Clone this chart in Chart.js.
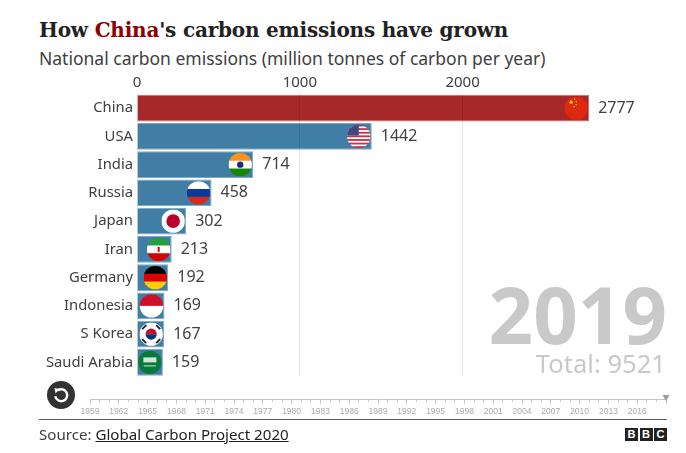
<!DOCTYPE html>
<html>
<head>
<meta charset="utf-8">
<script src="https://cdn.jsdelivr.net/npm/chart.js@4"></script>
<style>
html, body { margin: 0; padding: 0; background: #fff; }
#wrap { position: relative; width: 686px; height: 453px; overflow: hidden; color: #222; }
#wrap div { position: absolute; white-space: nowrap; }
canvas { position: absolute; }
#title { left: 39px; top: 18px; font: bold 20px "DejaVu Serif"; letter-spacing: -0.2px; color: #222; }
#title span { color: #8e0000; }
#subtitle { left: 39px; top: 46px; font: 17.5px "Noto Sans"; color: #404040; }
#year { right: 19px; top: 270px; font: bold 78px "Noto Sans"; color: #c9c9c9; line-height: 88px; }
#total { right: 20px; top: 346px; font: 25.6px "Noto Sans"; color: #c9c9c9; }
#rule { left: 39px; top: 419px; width: 628px; height: 1px; background: #5f5f5f; }
#source { left: 39px; top: 424px; font: 15.1px "Noto Sans"; color: #404040; }
#source u { color: #222; }
#replay { left: 47px; top: 381px; width: 28px; height: 28px; border-radius: 14px; background: #333; }
.bbc { top: 428px; width: 13px; height: 12.5px; background: #222; color: #fff; font: bold 11px/13px "Liberation Sans"; text-align: center; }
</style>
</head>
<body>
<div id="wrap">
  <div id="title">How <span>China</span>'s carbon emissions have grown</div>
  <div id="subtitle">National carbon emissions (million tonnes of carbon per year)</div>
  <canvas id="plot" width="686" height="400" style="left:0;top:0"></canvas>
  <div id="year">2019</div>
  <div id="total">Total: 9521</div>
  <canvas id="timeline" width="620" height="45" style="left:60px;top:375px"></canvas>
  <div id="replay">
    <svg width="28" height="28" viewBox="0 0 28 28"><path d="M10.8 9.3 A6 6 0 1 1 8.3 15.2" fill="none" stroke="#fff" stroke-width="2.4"/><path d="M7.5 7 L12.5 8 L8.5 12.5 Z" fill="#fff"/></svg>
  </div>
  <div id="rule"></div>
  <div id="source">Source: <u>Global Carbon Project 2020</u></div>
  <div class="bbc" style="left:625px">B</div>
  <div class="bbc" style="left:639.5px">B</div>
  <div class="bbc" style="left:654px">C</div>
</div>
<script>
const countries = ['China', 'USA', 'India', 'Russia', 'Japan', 'Iran', 'Germany', 'Indonesia', 'S Korea', 'Saudi Arabia'];
const emissions = [2777, 1442, 714, 458, 302, 213, 192, 169, 167, 159];
const axisTicks = [0, 1000, 2000];
const timelineYears = [1959, 1962, 1965, 1968, 1971, 1974, 1977, 1980, 1983, 1986, 1989, 1992, 1995, 1998, 2001, 2004, 2007, 2010, 2013, 2016];
const currentYear = 2019;

function stripes(ctx, x, y, r, colors) {
    let h = 2 * r / colors.length;
    colors.forEach((c, i) => {
        ctx.fillStyle = c;
        ctx.fillRect(x - r, y - r + i * h, 2 * r, h + 0.5);
    });
}

const flags = {
    China(ctx, x, y, r) {
        stripes(ctx, x, y, r, ['#de2910']);
        ctx.fillStyle = '#ffde00';
        [[-5, -6, 1.6], [-1.5, -9, .7], [0, -6.5, .7], [0, -3.5, .7], [-2, -1.5, .7]].forEach(s => {
            ctx.beginPath();
            ctx.arc(x + s[0], y + s[1], s[2], 0, Math.PI * 2);
            ctx.fill();
        });
    },
    USA(ctx, x, y, r) {
        let c = ['#c8304a', '#fff'];
        for (let i = 0; i < 13; i++) {
            ctx.fillStyle = c[i % 2];
            ctx.fillRect(x - r, y - r + i * 2 * r / 13, 2 * r, 2 * r / 13 + 0.3);
        }
        ctx.fillStyle = '#46467f';
        ctx.fillRect(x - r, y - r, r, r * 0.92);
    },
    India(ctx, x, y, r) {
        stripes(ctx, x, y, r, ['#f7931e', '#fff', '#128807']);
        ctx.fillStyle = '#1a2a7c';
        ctx.beginPath();
        ctx.arc(x, y, 3.2, 0, Math.PI * 2);
        ctx.fill();
    },
    Russia(ctx, x, y, r) { stripes(ctx, x, y, r, ['#fff', '#0a3a9c', '#d52b1e']); },
    Japan(ctx, x, y, r) {
        stripes(ctx, x, y, r, ['#fff']);
        ctx.fillStyle = '#bc002d';
        ctx.beginPath();
        ctx.arc(x, y, 6.8, 0, Math.PI * 2);
        ctx.fill();
    },
    Iran(ctx, x, y, r) {
        stripes(ctx, x, y, r, ['#239f40', '#fff', '#da0000']);
        ctx.fillStyle = '#da0000';
        ctx.fillRect(x - 1, y - 2.5, 2, 5);
    },
    Germany(ctx, x, y, r) { stripes(ctx, x, y, r, ['#000', '#dd0000', '#ffce00']); },
    Indonesia(ctx, x, y, r) { stripes(ctx, x, y, r, ['#ce1126', '#fff']); },
    'S Korea'(ctx, x, y, r) {
        stripes(ctx, x, y, r, ['#fff']);
        ctx.fillStyle = '#c60c30';
        ctx.beginPath();
        ctx.arc(x, y, 5.6, Math.PI, 0);
        ctx.fill();
        ctx.fillStyle = '#003478';
        ctx.beginPath();
        ctx.arc(x, y, 5.6, 0, Math.PI);
        ctx.fill();
        ctx.strokeStyle = '#222';
        ctx.lineWidth = 2;
        [[-7, -7], [7, -7], [-7, 7], [7, 7]].forEach(p => {
            let sign = p[0] * p[1] > 0 ? 1 : -1;
            ctx.beginPath();
            ctx.moveTo(x + p[0] - 2, y + p[1] + 2 * sign);
            ctx.lineTo(x + p[0] + 2, y + p[1] - 2 * sign);
            ctx.stroke();
        });
    },
    'Saudi Arabia'(ctx, x, y, r) {
        stripes(ctx, x, y, r, ['#0a7a3c']);
        ctx.fillStyle = '#cfe6d8';
        ctx.fillRect(x - 6.5, y - 5, 13, 5);
        ctx.fillRect(x - 6, y + 3, 12, 1);
    }
};

// flag disc inside the end of each bar, value label after it
const barExtras = {
    id: 'barExtras',
    afterDraw(chart) {
        let ctx = chart.ctx;
        let meta = chart.getDatasetMeta(0);
        meta.data.forEach((bar, i) => {
            let r = 11.7;
            let x = bar.x - 13;
            let y = bar.y;
            ctx.save();
            ctx.beginPath();
            ctx.arc(x, y, r, 0, Math.PI * 2);
            ctx.clip();
            flags[countries[i]](ctx, x, y, r);
            ctx.restore();

            ctx.save();
            ctx.fillStyle = '#404040';
            ctx.font = '16px "Noto Sans"';
            ctx.textBaseline = 'middle';
            ctx.fillText(emissions[i], bar.x + 9, y);
            ctx.restore();
        });
    }
};

new Chart(document.getElementById('plot').getContext('2d'), {
    type: 'bar',
    data: {
        labels: countries,
        datasets: [{
            data: emissions,
            backgroundColor: countries.map(c => c === 'China' ? '#a62828' : '#417ea6'),
            borderColor: countries.map(c => c === 'China' ? '#c76d6d' : '#7fa8c4'),
            borderWidth: 1,
            barPercentage: 0.95,
            categoryPercentage: 1
        }]
    },
    options: {
        indexAxis: 'y',
        responsive: false,
        animation: false,
        layout: { padding: { top: 72, left: 0, right: 0, bottom: 23.5 } },
        plugins: { legend: { display: false }, tooltip: { enabled: false } },
        scales: {
            x: {
                position: 'top',
                min: 0,
                max: 3372,
                afterBuildTicks: axis => { axis.ticks = axisTicks.map(v => ({ value: v })); },
                border: { display: false },
                grid: { color: 'rgba(0,0,0,0.1)', drawTicks: false, z: 1 },
                ticks: { padding: 2, maxRotation: 0, color: '#404040', font: { family: 'Noto Sans', size: 15 }, callback: v => String(v) }
            },
            y: {
                border: { display: false },
                grid: { display: false, drawTicks: false },
                ticks: { padding: 4, autoSkip: false, color: '#404040', font: { family: 'Noto Sans', size: 14.8 } },
                afterFit: axis => { axis.width = 137; }
            }
        }
    },
    plugins: [barExtras]
});

// slider under the chart, one tick per year with a longer one every third
const isMajor = v => timelineYears.includes(v) || v === currentYear;

new Chart(document.getElementById('timeline').getContext('2d'), {
    type: 'scatter',
    data: {
        datasets: [{
            data: [{ x: currentYear, y: 0.13 }],
            pointStyle: 'triangle',
            rotation: 180,
            radius: 4,
            backgroundColor: '#9a9a9a',
            borderWidth: 0,
            clip: false
        }]
    },
    options: {
        responsive: false,
        animation: false,
        layout: { padding: { left: 30, right: 14, top: 0, bottom: 0 } },
        plugins: { legend: { display: false }, tooltip: { enabled: false } },
        scales: {
            x: {
                type: 'linear',
                min: 1959,
                max: currentYear,
                afterBuildTicks: axis => {
                    let t = [];
                    for (let v = timelineYears[0]; v <= currentYear; v++) t.push({ value: v });
                    axis.ticks = t;
                },
                border: { color: '#c4c4c4' },
                grid: {
                    drawOnChartArea: false,
                    color: '#c4c4c4',
                    tickLength: 4,
                    tickWidth: 1,
                    tickBorderDash: c => isMajor(c.tick.value) ? [] : [2, 10]
                },
                ticks: {
                    autoSkip: false,
                    maxRotation: 0,
                    padding: 3,
                    color: '#aaaaaa',
                    font: { family: 'Liberation Sans', size: 8.5 },
                    callback: v => timelineYears.includes(v) ? String(v) : ''
                }
            },
            y: { display: false, min: 0, max: 1 }
        }
    }
});
</script>
</body>
</html>
